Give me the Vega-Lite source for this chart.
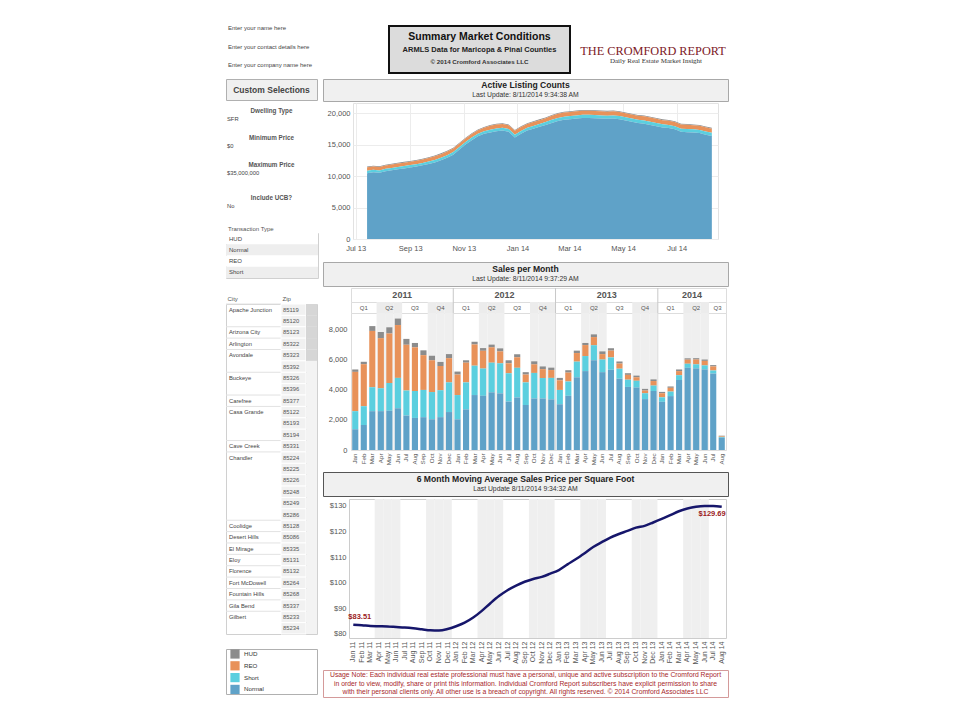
{
"$schema": "https://vega.github.io/schema/vega-lite/v6.json",
"padding": {"left": 225, "top": 25, "right": 0, "bottom": 0},
"background": "white",
"config": {
  "font": "Liberation Sans",
  "view": {"stroke": null, "fill": "transparent"},
  "axis": {"labelFont": "Liberation Sans", "labelColor": "#555555", "labelFontSize": 7.5, "ticks": false, "domain": false},
  "text": {"font": "Liberation Sans"},
  "title": {"font": "Liberation Sans"}
},
"datasets": {
  "types": [{"type": "Normal", "ord": 1}, {"type": "Short", "ord": 2}, {"type": "REO", "ord": 3}, {"type": "HUD", "ord": 4}],
  "months": [
    {"m": "2011-01", "q": "Q1", "Normal": 1380, "Short": 1200, "REO": 2610, "HUD": 160, "psf": 83.51},
    {"m": "2011-02", "q": "Q1", "Normal": 1660, "Short": 1250, "REO": 2790, "HUD": 160, "psf": 83.3},
    {"m": "2011-03", "q": "Q1", "Normal": 2580, "Short": 1590, "REO": 3740, "HUD": 320, "psf": 83.0},
    {"m": "2011-04", "q": "Q2", "Normal": 2580, "Short": 1520, "REO": 3330, "HUD": 410, "psf": 82.9},
    {"m": "2011-05", "q": "Q2", "Normal": 2610, "Short": 1840, "REO": 3290, "HUD": 410, "psf": 82.8},
    {"m": "2011-06", "q": "Q2", "Normal": 2770, "Short": 2020, "REO": 3510, "HUD": 430, "psf": 82.6},
    {"m": "2011-07", "q": "Q3", "Normal": 2290, "Short": 1660, "REO": 3040, "HUD": 390, "psf": 82.4},
    {"m": "2011-08", "q": "Q3", "Normal": 2130, "Short": 1790, "REO": 2900, "HUD": 290, "psf": 82.1},
    {"m": "2011-09", "q": "Q3", "Normal": 2180, "Short": 1810, "REO": 2310, "HUD": 320, "psf": 81.7},
    {"m": "2011-10", "q": "Q4", "Normal": 2040, "Short": 1810, "REO": 2110, "HUD": 300, "psf": 81.3},
    {"m": "2011-11", "q": "Q4", "Normal": 2180, "Short": 1790, "REO": 1610, "HUD": 270, "psf": 81.2},
    {"m": "2011-12", "q": "Q4", "Normal": 2520, "Short": 1970, "REO": 1610, "HUD": 270, "psf": 81.8},
    {"m": "2012-01", "q": "Q1", "Normal": 2040, "Short": 1610, "REO": 1360, "HUD": 200, "psf": 82.9},
    {"m": "2012-02", "q": "Q1", "Normal": 2700, "Short": 1790, "REO": 1310, "HUD": 160, "psf": 84.3},
    {"m": "2012-03", "q": "Q1", "Normal": 3650, "Short": 1950, "REO": 1410, "HUD": 180, "psf": 86.3},
    {"m": "2012-04", "q": "Q2", "Normal": 3600, "Short": 1810, "REO": 1180, "HUD": 180, "psf": 88.9},
    {"m": "2012-05", "q": "Q2", "Normal": 3830, "Short": 1970, "REO": 1020, "HUD": 180, "psf": 91.9},
    {"m": "2012-06", "q": "Q2", "Normal": 3760, "Short": 2000, "REO": 790, "HUD": 200, "psf": 94.7},
    {"m": "2012-07", "q": "Q3", "Normal": 3220, "Short": 1880, "REO": 660, "HUD": 200, "psf": 97.0},
    {"m": "2012-08", "q": "Q3", "Normal": 3490, "Short": 1970, "REO": 700, "HUD": 200, "psf": 98.8},
    {"m": "2012-09", "q": "Q3", "Normal": 2990, "Short": 1500, "REO": 520, "HUD": 160, "psf": 100.3},
    {"m": "2012-10", "q": "Q4", "Normal": 3420, "Short": 1700, "REO": 570, "HUD": 200, "psf": 101.4},
    {"m": "2012-11", "q": "Q4", "Normal": 3420, "Short": 1360, "REO": 590, "HUD": 180, "psf": 102.2},
    {"m": "2012-12", "q": "Q4", "Normal": 3360, "Short": 1430, "REO": 520, "HUD": 160, "psf": 103.5},
    {"m": "2013-01", "q": "Q1", "Normal": 3040, "Short": 950, "REO": 640, "HUD": 160, "psf": 104.9},
    {"m": "2013-02", "q": "Q1", "Normal": 3600, "Short": 950, "REO": 590, "HUD": 160, "psf": 107.1},
    {"m": "2013-03", "q": "Q1", "Normal": 4830, "Short": 1040, "REO": 570, "HUD": 160, "psf": 109.2},
    {"m": "2013-04", "q": "Q2", "Normal": 5240, "Short": 1000, "REO": 730, "HUD": 140, "psf": 111.5},
    {"m": "2013-05", "q": "Q2", "Normal": 5960, "Short": 1000, "REO": 540, "HUD": 180, "psf": 113.9},
    {"m": "2013-06", "q": "Q2", "Normal": 5170, "Short": 840, "REO": 360, "HUD": 180, "psf": 115.8},
    {"m": "2013-07", "q": "Q3", "Normal": 5330, "Short": 820, "REO": 450, "HUD": 160, "psf": 117.6},
    {"m": "2013-08", "q": "Q3", "Normal": 4740, "Short": 660, "REO": 340, "HUD": 140, "psf": 119.0},
    {"m": "2013-09", "q": "Q3", "Normal": 4190, "Short": 480, "REO": 320, "HUD": 110, "psf": 120.2},
    {"m": "2013-10", "q": "Q4", "Normal": 4150, "Short": 450, "REO": 230, "HUD": 110, "psf": 121.5},
    {"m": "2013-11", "q": "Q4", "Normal": 3380, "Short": 390, "REO": 180, "HUD": 110, "psf": 122.2},
    {"m": "2013-12", "q": "Q4", "Normal": 3920, "Short": 360, "REO": 300, "HUD": 110, "psf": 123.5},
    {"m": "2014-01", "q": "Q1", "Normal": 3200, "Short": 300, "REO": 270, "HUD": 90, "psf": 124.9},
    {"m": "2014-02", "q": "Q1", "Normal": 3580, "Short": 300, "REO": 250, "HUD": 90, "psf": 126.4},
    {"m": "2014-03", "q": "Q1", "Normal": 4650, "Short": 320, "REO": 270, "HUD": 110, "psf": 127.9},
    {"m": "2014-04", "q": "Q2", "Normal": 5460, "Short": 270, "REO": 270, "HUD": 90, "psf": 129.0},
    {"m": "2014-05", "q": "Q2", "Normal": 5420, "Short": 270, "REO": 320, "HUD": 90, "psf": 129.7},
    {"m": "2014-06", "q": "Q2", "Normal": 5350, "Short": 270, "REO": 300, "HUD": 90, "psf": 130.0},
    {"m": "2014-07", "q": "Q3", "Normal": 5080, "Short": 200, "REO": 270, "HUD": 90, "psf": 130.0},
    {"m": "2014-08", "q": "Q3", "Normal": 820, "Short": 50, "REO": 50, "HUD": 30, "psf": 129.69}
  ],
  "listings": [
    {"d": "2013-07-14", "Normal": 10460, "Short": 380, "REO": 540, "HUD": 120},
    {"d": "2013-07-21", "Normal": 10610, "Short": 380, "REO": 540, "HUD": 120},
    {"d": "2013-07-28", "Normal": 10510, "Short": 380, "REO": 540, "HUD": 120},
    {"d": "2013-08-04", "Normal": 10760, "Short": 380, "REO": 540, "HUD": 120},
    {"d": "2013-08-11", "Normal": 10910, "Short": 380, "REO": 540, "HUD": 120},
    {"d": "2013-08-18", "Normal": 11060, "Short": 380, "REO": 540, "HUD": 120},
    {"d": "2013-08-25", "Normal": 11210, "Short": 380, "REO": 540, "HUD": 120},
    {"d": "2013-09-01", "Normal": 11360, "Short": 380, "REO": 540, "HUD": 120},
    {"d": "2013-09-08", "Normal": 11510, "Short": 380, "REO": 540, "HUD": 120},
    {"d": "2013-09-15", "Normal": 11710, "Short": 380, "REO": 540, "HUD": 120},
    {"d": "2013-09-22", "Normal": 11900, "Short": 410, "REO": 570, "HUD": 120},
    {"d": "2013-09-29", "Normal": 12150, "Short": 410, "REO": 570, "HUD": 120},
    {"d": "2013-10-06", "Normal": 12500, "Short": 410, "REO": 570, "HUD": 120},
    {"d": "2013-10-13", "Normal": 12900, "Short": 410, "REO": 570, "HUD": 120},
    {"d": "2013-10-20", "Normal": 13400, "Short": 410, "REO": 570, "HUD": 120},
    {"d": "2013-10-27", "Normal": 14200, "Short": 410, "REO": 570, "HUD": 120},
    {"d": "2013-11-03", "Normal": 15000, "Short": 410, "REO": 570, "HUD": 120},
    {"d": "2013-11-10", "Normal": 15700, "Short": 410, "REO": 570, "HUD": 120},
    {"d": "2013-11-17", "Normal": 16300, "Short": 410, "REO": 570, "HUD": 120},
    {"d": "2013-11-24", "Normal": 16700, "Short": 410, "REO": 570, "HUD": 120},
    {"d": "2013-12-01", "Normal": 16915, "Short": 450, "REO": 615, "HUD": 120},
    {"d": "2013-12-08", "Normal": 17115, "Short": 450, "REO": 615, "HUD": 120},
    {"d": "2013-12-15", "Normal": 17215, "Short": 450, "REO": 615, "HUD": 120},
    {"d": "2013-12-22", "Normal": 17015, "Short": 450, "REO": 615, "HUD": 120},
    {"d": "2013-12-29", "Normal": 16115, "Short": 450, "REO": 615, "HUD": 120},
    {"d": "2014-01-05", "Normal": 16715, "Short": 450, "REO": 615, "HUD": 120},
    {"d": "2014-01-12", "Normal": 17215, "Short": 450, "REO": 615, "HUD": 120},
    {"d": "2014-01-19", "Normal": 17515, "Short": 450, "REO": 615, "HUD": 120},
    {"d": "2014-01-26", "Normal": 17815, "Short": 450, "REO": 615, "HUD": 120},
    {"d": "2014-02-02", "Normal": 18115, "Short": 450, "REO": 615, "HUD": 120},
    {"d": "2014-02-09", "Normal": 18435, "Short": 490, "REO": 655, "HUD": 120},
    {"d": "2014-02-16", "Normal": 18735, "Short": 490, "REO": 655, "HUD": 120},
    {"d": "2014-02-23", "Normal": 18935, "Short": 490, "REO": 655, "HUD": 120},
    {"d": "2014-03-02", "Normal": 19035, "Short": 490, "REO": 655, "HUD": 120},
    {"d": "2014-03-09", "Normal": 19135, "Short": 490, "REO": 655, "HUD": 120},
    {"d": "2014-03-16", "Normal": 19235, "Short": 490, "REO": 655, "HUD": 120},
    {"d": "2014-03-23", "Normal": 19235, "Short": 490, "REO": 655, "HUD": 120},
    {"d": "2014-03-30", "Normal": 19185, "Short": 490, "REO": 655, "HUD": 120},
    {"d": "2014-04-06", "Normal": 19135, "Short": 490, "REO": 655, "HUD": 120},
    {"d": "2014-04-13", "Normal": 19085, "Short": 490, "REO": 655, "HUD": 120},
    {"d": "2014-04-20", "Normal": 19135, "Short": 490, "REO": 655, "HUD": 120},
    {"d": "2014-04-27", "Normal": 19035, "Short": 490, "REO": 655, "HUD": 120},
    {"d": "2014-05-04", "Normal": 18835, "Short": 490, "REO": 655, "HUD": 120},
    {"d": "2014-05-11", "Normal": 18635, "Short": 490, "REO": 655, "HUD": 120},
    {"d": "2014-05-18", "Normal": 18435, "Short": 490, "REO": 655, "HUD": 120},
    {"d": "2014-05-25", "Normal": 18320, "Short": 500, "REO": 660, "HUD": 120},
    {"d": "2014-06-01", "Normal": 18120, "Short": 500, "REO": 660, "HUD": 120},
    {"d": "2014-06-08", "Normal": 17920, "Short": 500, "REO": 660, "HUD": 120},
    {"d": "2014-06-15", "Normal": 17720, "Short": 500, "REO": 660, "HUD": 120},
    {"d": "2014-06-22", "Normal": 17620, "Short": 500, "REO": 660, "HUD": 120},
    {"d": "2014-06-29", "Normal": 17420, "Short": 500, "REO": 660, "HUD": 120},
    {"d": "2014-07-06", "Normal": 17020, "Short": 500, "REO": 660, "HUD": 120},
    {"d": "2014-07-13", "Normal": 16970, "Short": 500, "REO": 660, "HUD": 120},
    {"d": "2014-07-20", "Normal": 16920, "Short": 500, "REO": 660, "HUD": 120},
    {"d": "2014-07-27", "Normal": 16820, "Short": 500, "REO": 660, "HUD": 120},
    {"d": "2014-08-03", "Normal": 16570, "Short": 500, "REO": 660, "HUD": 120},
    {"d": "2014-08-10", "Normal": 16370, "Short": 500, "REO": 660, "HUD": 120}
  ],
  "zips": [
    {"city": "Apache Junction", "zip": "85119"}, {"city": "", "zip": "85120"}, {"city": "Arizona City", "zip": "85123"},
    {"city": "Arlington", "zip": "85322"}, {"city": "Avondale", "zip": "85323"}, {"city": "", "zip": "85392"},
    {"city": "Buckeye", "zip": "85326"}, {"city": "", "zip": "85396"}, {"city": "Carefree", "zip": "85377"},
    {"city": "Casa Grande", "zip": "85122"}, {"city": "", "zip": "85193"}, {"city": "", "zip": "85194"},
    {"city": "Cave Creek", "zip": "85331"}, {"city": "Chandler", "zip": "85224"}, {"city": "", "zip": "85225"},
    {"city": "", "zip": "85226"}, {"city": "", "zip": "85248"}, {"city": "", "zip": "85249"},
    {"city": "", "zip": "85286"}, {"city": "Coolidge", "zip": "85128"}, {"city": "Desert Hills", "zip": "85086"},
    {"city": "El Mirage", "zip": "85335"}, {"city": "Eloy", "zip": "85131"}, {"city": "Florence", "zip": "85132"},
    {"city": "Fort McDowell", "zip": "85264"}, {"city": "Fountain Hills", "zip": "85268"}, {"city": "Gila Bend", "zip": "85337"},
    {"city": "Gilbert", "zip": "85233"}, {"city": "", "zip": "85234"}
  ],
  "ybound": [{"m": "2012-01"}, {"m": "2013-01"}, {"m": "2014-01"}],
  "yrs": [{"m": "2011-07", "t": "2011"}, {"m": "2012-07", "t": "2012"}, {"m": "2013-07", "t": "2013"}, {"m": "2014-05", "t": "2014"}],
  "qlab": [
    {"m": "2011-02", "t": "Q1"}, {"m": "2011-05", "t": "Q2"}, {"m": "2011-08", "t": "Q3"}, {"m": "2011-11", "t": "Q4"},
    {"m": "2012-02", "t": "Q1"}, {"m": "2012-05", "t": "Q2"}, {"m": "2012-08", "t": "Q3"}, {"m": "2012-11", "t": "Q4"},
    {"m": "2013-02", "t": "Q1"}, {"m": "2013-05", "t": "Q2"}, {"m": "2013-08", "t": "Q3"}, {"m": "2013-11", "t": "Q4"},
    {"m": "2014-02", "t": "Q1"}, {"m": "2014-05", "t": "Q2"}
  ],
  "qlab2": [{"m": "2014-08", "t": "Q3"}]
},
"spacing": 4,
"vconcat": [
  {
    "spacing": 7,
    "hconcat": [
      {
        "width": 92, "height": 41,
        "data": {"values": [{"t": "Enter your name here"}, {"t": "Enter your contact details here"}, {"t": "Enter your company name here"}]},
        "mark": {"type": "text", "align": "left", "fontSize": 6, "color": "#444444", "dx": 2},
        "encoding": {
          "y": {"field": "t", "type": "nominal", "sort": null, "axis": null, "scale": {"type": "point", "padding": 0.11}},
          "x": {"datum": "c", "type": "nominal", "axis": null, "scale": {"type": "band", "paddingInner": 0, "paddingOuter": 0}, "bandPosition": 0},
          "text": {"field": "t"}
        }
      },
      {"width": 56, "height": 1, "data": {"values": []}, "mark": "rect"},
      {
        "width": 181, "height": 47,
        "view": {"fill": "#dcdcdc", "stroke": "#111111", "strokeWidth": 2},
        "data": {"values": [
          {"line": "1", "t": "Summary Market Conditions"},
          {"line": "2", "t": "ARMLS Data for Maricopa & Pinal Counties"},
          {"line": "3", "t": "© 2014 Cromford Associates LLC"}
        ]},
        "encoding": {
          "y": {"field": "line", "type": "ordinal", "axis": null, "scale": {"type": "point", "padding": 0.85}},
          "text": {"field": "t"}
        },
        "layer": [
          {"transform": [{"filter": "datum.line == '1'"}], "mark": {"type": "text", "fontSize": 10.5, "fontWeight": "bold", "color": "#111111"}},
          {"transform": [{"filter": "datum.line == '2'"}], "mark": {"type": "text", "fontSize": 7.5, "fontWeight": "bold", "color": "#222222"}},
          {"transform": [{"filter": "datum.line == '3'"}], "mark": {"type": "text", "fontSize": 6.2, "fontWeight": "bold", "color": "#333333"}}
        ]
      },
      {
        "width": 150, "height": 47,
        "data": {"values": [{"line": "1", "t": "THE CROMFORD REPORT"}, {"line": "2", "t": "Daily Real Estate Market Insight"}]},
        "encoding": {"text": {"field": "t"}},
        "layer": [
          {"transform": [{"filter": "datum.line == '1'"}], "mark": {"type": "text", "font": "Liberation Serif", "fontSize": 12.3, "color": "#7d2027", "dy": 1}},
          {"transform": [{"filter": "datum.line == '2'"}], "mark": {"type": "text", "font": "Liberation Serif", "fontSize": 7, "color": "#333333", "dy": 11, "dx": 3}}
        ]
      }
    ]
  },
  {
    "spacing": 3,
    "hconcat": [
      {
        "spacing": 0,
        "vconcat": [
          {
            "width": 91, "height": 21,
            "view": {"fill": "#f0f0f0", "stroke": "#b0b0b0"},
            "data": {"values": [{"t": "Custom Selections"}]},
            "mark": {"type": "text", "fontSize": 8.5, "fontWeight": "bold", "color": "#444444"},
            "encoding": {"text": {"field": "t"}}
          },
          {
            "width": 91, "height": 81,
            "data": {"values": [
              {"label": "Dwelling Type", "value": "SFR"},
              {"label": "Minimum Price", "value": "$0"},
              {"label": "Maximum Price", "value": "$35,000,000"}
            ]},
            "encoding": {"y": {"field": "label", "type": "nominal", "sort": null, "axis": null, "scale": {"type": "band", "paddingInner": 0, "paddingOuter": 0}}},
            "layer": [
              {"mark": {"type": "text", "fontSize": 6.3, "fontWeight": "bold", "color": "#555555", "dy": -4}, "encoding": {"text": {"field": "label"}}},
              {"mark": {"type": "text", "fontSize": 5.8, "color": "#444444", "align": "left", "dy": 4, "dx": 1},
               "encoding": {"text": {"field": "value"}, "x": {"datum": "c", "type": "nominal", "axis": null, "scale": {"type": "band", "paddingInner": 0, "paddingOuter": 0}, "bandPosition": 0}}}
            ]
          },
          {
            "width": 91, "height": 43,
            "data": {"values": [{"label": "Include UCB?", "value": "No"}]},
            "encoding": {"y": {"field": "label", "type": "nominal", "sort": null, "axis": null, "scale": {"type": "band", "paddingInner": 0, "paddingOuter": 0}}},
            "layer": [
              {"mark": {"type": "text", "fontSize": 6.3, "fontWeight": "bold", "color": "#555555", "dy": -6}, "encoding": {"text": {"field": "label"}}},
              {"mark": {"type": "text", "fontSize": 5.8, "color": "#444444", "align": "left", "dy": 2, "dx": 1},
               "encoding": {"text": {"field": "value"}, "x": {"datum": "c", "type": "nominal", "axis": null, "scale": {"type": "band", "paddingInner": 0, "paddingOuter": 0}, "bandPosition": 0}}}
            ]
          },
          {
            "width": 92, "height": 45,
            "title": {"text": "Transaction Type", "anchor": "start", "fontSize": 6, "fontWeight": "normal", "color": "#555555", "offset": 1, "dx": 2},
            "view": {"fill": "white", "stroke": "#d0d0d0"},
            "data": {"values": [{"v": "HUD"}, {"v": "Normal"}, {"v": "REO"}, {"v": "Short"}]},
            "encoding": {"y": {"field": "v", "type": "nominal", "sort": null, "axis": null, "scale": {"type": "band", "paddingInner": 0, "paddingOuter": 0}}},
            "layer": [
              {"mark": {"type": "rect"}, "encoding": {"color": {"condition": {"test": "datum.v == 'Normal' || datum.v == 'Short'", "value": "#eeeeee"}, "value": "#ffffff"}}},
              {"mark": {"type": "text", "fontSize": 6, "color": "#444444", "align": "left", "dx": 3},
               "encoding": {"text": {"field": "v"}, "x": {"datum": "c", "type": "nominal", "axis": null, "scale": {"type": "band", "paddingInner": 0, "paddingOuter": 0}, "bandPosition": 0}}}
            ]
          },
          {"width": 1, "height": 16, "data": {"values": []}, "mark": "rect"},
          {
            "bounds": "flush",
            "spacing": 0,
            "hconcat": [
              {
                "width": 55, "height": 330,
                "title": {"text": "City", "anchor": "start", "fontSize": 6, "fontWeight": "normal", "color": "#555555", "offset": 2, "dx": 2},
                "view": {"fill": "white", "stroke": "#d0d0d0"},
                "data": {"name": "zips"},
                "encoding": {"y": {"field": "zip", "type": "nominal", "sort": null, "axis": null, "scale": {"type": "band", "paddingInner": 0, "paddingOuter": 0}}},
                "layer": [
                  {"mark": {"type": "text", "fontSize": 5.8, "color": "#444444", "align": "left", "dx": 3},
                   "encoding": {"text": {"field": "city"}, "x": {"datum": "c", "type": "nominal", "axis": null, "scale": {"type": "band", "paddingInner": 0, "paddingOuter": 0}, "bandPosition": 0}}},
                  {"mark": {"type": "rule", "strokeWidth": 1},
                   "encoding": {"y": {"field": "zip", "type": "nominal", "sort": null, "axis": null, "bandPosition": 0, "scale": {"type": "band", "paddingInner": 0, "paddingOuter": 0}},
                                "color": {"condition": {"test": "datum.city != ''", "value": "#e2e2e2"}, "value": "transparent"}}}
                ]
              },
              {
                "width": 25, "height": 330,
                "title": {"text": "Zip", "anchor": "start", "fontSize": 6, "fontWeight": "normal", "color": "#555555", "offset": 2, "dx": 2},
                "view": {"fill": "white", "stroke": "#d0d0d0"},
                "data": {"name": "zips"},
                "encoding": {"y": {"field": "zip", "type": "nominal", "sort": null, "axis": null, "scale": {"type": "band", "paddingInner": 0, "paddingOuter": 0}}},
                "layer": [
                  {"mark": {"type": "rect", "color": "#f1f1f1", "stroke": "#ffffff", "strokeWidth": 1}},
                  {"mark": {"type": "text", "fontSize": 5.8, "color": "#555555", "align": "left", "dx": 2},
                   "encoding": {"text": {"field": "zip"}, "x": {"datum": "c", "type": "nominal", "axis": null, "scale": {"type": "band", "paddingInner": 0, "paddingOuter": 0}, "bandPosition": 0}}}
                ]
              },
              {
                "width": 11, "height": 330,
                "view": {"fill": "#f3f3f3", "stroke": "#d0d0d0"},
                "data": {"name": "zips"},
                "mark": {"type": "rect"},
                "encoding": {
                  "y": {"field": "zip", "type": "nominal", "sort": null, "axis": null, "scale": {"type": "band", "paddingInner": 0, "paddingOuter": 0}},
                  "color": {"condition": {"test": "indexof(['85119','85120','85123','85322','85323'], datum.zip) >= 0", "value": "#d6d6d6"}, "value": "#f3f3f3"}
                }
              }
            ]
          },
          {"width": 1, "height": 13, "data": {"values": []}, "mark": "rect"},
          {"width": 91, "height": 45, "view": {"fill": "white", "stroke": "#b0b0b0"}, "data": {"values": []}, "mark": "rect"}
        ]
      },
      {
        "spacing": 4,
        "vconcat": [
          {
            "spacing": 5,
            "vconcat": [
              {
                "spacing": 9,
                "vconcat": [
                  {
                    "spacing": 0,
                    "vconcat": [
                      {
                        "width": 405, "height": 22,
                        "view": {"fill": "#f0f0f0", "stroke": "#a8a8a8"},
                        "data": {"values": [{"line": "1", "t": "Active Listing Counts"}, {"line": "2", "t": "Last Update: 8/11/2014 9:34:38 AM"}]},
                        "encoding": {"y": {"field": "line", "type": "ordinal", "axis": null, "scale": {"type": "point", "padding": 0.6}}, "text": {"field": "t"}},
                        "layer": [
                          {"transform": [{"filter": "datum.line == '1'"}], "mark": {"type": "text", "fontSize": 8.6, "fontWeight": "bold", "color": "#222222"}},
                          {"transform": [{"filter": "datum.line == '2'"}], "mark": {"type": "text", "fontSize": 6.8, "color": "#333333"}}
                        ]
                      },
                      {
                        "spacing": 2,
                        "hconcat": [
                          {"width": 1, "height": 1, "data": {"values": []}, "mark": "rect"},
                          {
                            "width": 365, "height": 136,
                            "view": {"stroke": "#e2e2e2", "fill": "white"},
                            "data": {"name": "listings"},
                            "transform": [
                              {"fold": ["HUD", "REO", "Short", "Normal"], "as": ["type", "count"]},
                              {"lookup": "type", "from": {"data": {"name": "types"}, "key": "type", "fields": ["ord"]}}
                            ],
                            "mark": {"type": "area", "interpolate": "linear"},
                            "encoding": {
                              "x": {"field": "d", "type": "temporal", "title": null,
                                    "scale": {"type": "utc", "domain": ["2013-06-28", "2014-08-17"]},
                                    "axis": {"format": "%b %y", "tickCount": {"interval": "month", "step": 2}, "grid": true, "gridColor": "#ececec", "labelPadding": 5}},
                              "y": {"field": "count", "type": "quantitative", "stack": "zero", "title": null,
                                    "scale": {"domain": [0, 21600], "nice": false},
                                    "axis": {"values": [0, 5000, 10000, 15000, 20000], "format": ",d", "grid": true, "gridColor": "#ececec", "labelPadding": 3}},
                              "color": {"field": "type", "type": "nominal",
                                        "scale": {"domain": ["HUD", "REO", "Short", "Normal"], "range": ["#8c8c8c", "#e8925a", "#5bcfdf", "#5fa2c8"]},
                                        "legend": {"orient": "none", "legendX": 4, "legendY": 623, "title": null, "symbolType": "square", "symbolSize": 85, "symbolStrokeWidth": 0, "labelFontSize": 6.2, "labelColor": "#333333", "rowPadding": 1.8, "labelOffset": 4, "padding": 0}},
                              "order": {"field": "ord", "type": "quantitative", "sort": "ascending"}
                            }
                          }
                        ]
                      }
                    ]
                  },
                  {
                    "spacing": 0,
                    "vconcat": [
                      {
                        "width": 405, "height": 24,
                        "view": {"fill": "#f0f0f0", "stroke": "#a8a8a8"},
                        "data": {"values": [{"line": "1", "t": "Sales per Month"}, {"line": "2", "t": "Last Update: 8/11/2014 9:37:29 AM"}]},
                        "encoding": {"y": {"field": "line", "type": "ordinal", "axis": null, "scale": {"type": "point", "padding": 0.6}}, "text": {"field": "t"}},
                        "layer": [
                          {"transform": [{"filter": "datum.line == '1'"}], "mark": {"type": "text", "fontSize": 8.6, "fontWeight": "bold", "color": "#222222"}},
                          {"transform": [{"filter": "datum.line == '2'"}], "mark": {"type": "text", "fontSize": 6.8, "color": "#333333"}}
                        ]
                      },
                      {
                        "spacing": 3,
                        "hconcat": [
                          {"width": 1, "height": 1, "data": {"values": []}, "mark": "rect"},
                          {
                            "bounds": "flush",
                            "spacing": 0,
                            "resolve": {"scale": {"x": "shared"}, "axis": {"x": "independent"}},
                            "vconcat": [
                              {
                                "width": 375, "height": 14,
                                "view": {"fill": "white", "stroke": "#dddddd"},
                                "layer": [
                                  {"data": {"name": "ybound"}, "mark": {"type": "rule", "color": "#c8c8c8"},
                                   "encoding": {"x": {"field": "m", "type": "ordinal", "timeUnit": "utcyearmonth", "bandPosition": 0, "axis": null, "scale": {"type": "band", "paddingInner": 0, "paddingOuter": 0}}}},
                                  {"data": {"name": "yrs"}, "mark": {"type": "text", "fontSize": 9, "fontWeight": "bold", "color": "#555555"},
                                   "encoding": {"x": {"field": "m", "type": "ordinal", "timeUnit": "utcyearmonth", "bandPosition": 0, "axis": null, "scale": {"type": "band", "paddingInner": 0, "paddingOuter": 0}}, "text": {"field": "t"}}}
                                ]
                              },
                              {
                                "width": 375, "height": 11,
                                "view": {"fill": "white", "stroke": "#dddddd"},
                                "layer": [
                                  {"data": {"name": "months"}, "transform": [{"filter": "datum.q == 'Q2' || datum.q == 'Q4'"}], "mark": {"type": "rect", "color": "#ececec"},
                                   "encoding": {"x": {"field": "m", "type": "ordinal", "timeUnit": "utcyearmonth", "axis": null, "scale": {"type": "band", "paddingInner": 0, "paddingOuter": 0}}}},
                                  {"data": {"name": "ybound"}, "mark": {"type": "rule", "color": "#c8c8c8"},
                                   "encoding": {"x": {"field": "m", "type": "ordinal", "timeUnit": "utcyearmonth", "bandPosition": 0, "axis": null, "scale": {"type": "band", "paddingInner": 0, "paddingOuter": 0}}}},
                                  {"data": {"name": "qlab"}, "mark": {"type": "text", "fontSize": 6, "color": "#555555"},
                                   "encoding": {"x": {"field": "m", "type": "ordinal", "timeUnit": "utcyearmonth", "axis": null, "scale": {"type": "band", "paddingInner": 0, "paddingOuter": 0}}, "text": {"field": "t"}}},
                                  {"data": {"name": "qlab2"}, "mark": {"type": "text", "fontSize": 6, "color": "#555555"},
                                   "encoding": {"x": {"field": "m", "type": "ordinal", "timeUnit": "utcyearmonth", "bandPosition": 0, "axis": null, "scale": {"type": "band", "paddingInner": 0, "paddingOuter": 0}}, "text": {"field": "t"}}}
                                ]
                              },
                              {
                                "width": 375, "height": 137,
                                "view": {"fill": "white", "stroke": "#dddddd"},
                                "layer": [
                                  {"data": {"name": "months"}, "transform": [{"filter": "datum.q == 'Q2' || datum.q == 'Q4'"}], "mark": {"type": "rect", "color": "#efefef"},
                                   "encoding": {"x": {"field": "m", "type": "ordinal", "timeUnit": "utcyearmonth", "title": null, "scale": {"type": "band", "paddingInner": 0, "paddingOuter": 0}, "axis": {"format": "%b", "labelAngle": 270, "labelFontSize": 6.2, "labelPadding": 3}}}},
                                  {"data": {"name": "ybound"}, "mark": {"type": "rule", "color": "#dddddd"},
                                   "encoding": {"x": {"field": "m", "type": "ordinal", "timeUnit": "utcyearmonth", "bandPosition": 0, "title": null, "scale": {"type": "band", "paddingInner": 0, "paddingOuter": 0}, "axis": {"format": "%b", "labelAngle": 270, "labelFontSize": 6.2, "labelPadding": 3}}}},
                                  {"data": {"name": "months"},
                                   "transform": [
                                     {"fold": ["HUD", "REO", "Short", "Normal"], "as": ["type", "count"]},
                                     {"lookup": "type", "from": {"data": {"name": "types"}, "key": "type", "fields": ["ord"]}}
                                   ],
                                   "mark": {"type": "bar", "width": {"band": 0.72}},
                                   "encoding": {
                                     "x": {"field": "m", "type": "ordinal", "timeUnit": "utcyearmonth", "title": null, "scale": {"type": "band", "paddingInner": 0, "paddingOuter": 0}, "axis": {"format": "%b", "labelAngle": 270, "labelFontSize": 6.2, "labelPadding": 3}},
                                     "y": {"field": "count", "type": "quantitative", "stack": "zero", "title": null, "scale": {"domain": [0, 9100], "nice": false},
                                           "axis": {"values": [0, 2000, 4000, 6000, 8000], "format": ",d", "grid": false, "labelPadding": 4}},
                                     "color": {"field": "type", "type": "nominal",
                                               "scale": {"domain": ["HUD", "REO", "Short", "Normal"], "range": ["#8c8c8c", "#e8925a", "#5bcfdf", "#5fa2c8"]},
                                               "legend": {"orient": "none", "legendX": 4, "legendY": 623, "title": null, "symbolType": "square", "symbolSize": 85, "symbolStrokeWidth": 0, "labelFontSize": 6.2, "labelColor": "#333333", "rowPadding": 1.8, "labelOffset": 4, "padding": 0}},
                                     "order": {"field": "ord", "type": "quantitative", "sort": "ascending"}
                                   }}
                                ]
                              }
                            ]
                          }
                        ]
                      }
                    ]
                  }
                ]
              },
              {
                "spacing": 1,
                "vconcat": [
                  {
                    "width": 405, "height": 24,
                    "view": {"fill": "#f0f0f0", "stroke": "#555555"},
                    "data": {"values": [{"line": "1", "t": "6 Month Moving Average Sales Price per Square Foot"}, {"line": "2", "t": "Last Update 8/11/2014 9:34:32 AM"}]},
                    "encoding": {"y": {"field": "line", "type": "ordinal", "axis": null, "scale": {"type": "point", "padding": 0.6}}, "text": {"field": "t"}},
                    "layer": [
                      {"transform": [{"filter": "datum.line == '1'"}], "mark": {"type": "text", "fontSize": 8.6, "fontWeight": "bold", "color": "#222222"}},
                      {"transform": [{"filter": "datum.line == '2'"}], "mark": {"type": "text", "fontSize": 6.8, "color": "#333333"}}
                    ]
                  },
                  {
                    "spacing": 4,
                    "hconcat": [
                      {"width": 1, "height": 1, "data": {"values": []}, "mark": "rect"},
                      {
                        "width": 377, "height": 139,
                        "view": {"fill": "white", "stroke": "#cccccc"},
                        "data": {"name": "months"},
                        "layer": [
                          {"transform": [{"filter": "datum.q == 'Q2' || datum.q == 'Q4'"}], "mark": {"type": "rect", "color": "#efefef"},
                           "encoding": {"x": {"field": "m", "type": "ordinal", "timeUnit": "utcyearmonth", "title": null, "scale": {"type": "band", "paddingInner": 0, "paddingOuter": 0}, "axis": {"format": "%b %y", "labelAngle": 270, "labelFontSize": 7, "labelPadding": 3}}}},
                          {"mark": {"type": "line", "color": "#16166b", "strokeWidth": 2.5, "interpolate": "monotone"},
                           "encoding": {
                             "x": {"field": "m", "type": "ordinal", "timeUnit": "utcyearmonth", "title": null, "scale": {"type": "band", "paddingInner": 0, "paddingOuter": 0}, "axis": {"format": "%b %y", "labelAngle": 270, "labelFontSize": 7, "labelPadding": 3}},
                             "y": {"field": "psf", "type": "quantitative", "title": null, "scale": {"domain": [78.3, 132.7], "nice": false, "zero": false},
                                   "axis": {"values": [80, 90, 100, 110, 120, 130], "format": "$d", "grid": false, "labelPadding": 3}}
                           }},
                          {"transform": [{"filter": "datum.psf == 83.51"}],
                           "mark": {"type": "text", "align": "left", "baseline": "bottom", "dx": -5, "dy": -4, "fontSize": 7.5, "fontWeight": "bold", "color": "#9b1c1c"},
                           "encoding": {
                             "x": {"field": "m", "type": "ordinal", "timeUnit": "utcyearmonth", "title": null, "scale": {"type": "band", "paddingInner": 0, "paddingOuter": 0}, "axis": {"format": "%b %y", "labelAngle": 270, "labelFontSize": 7, "labelPadding": 3}},
                             "y": {"field": "psf", "type": "quantitative", "title": null, "scale": {"domain": [78.3, 132.7], "nice": false, "zero": false},
                                   "axis": {"values": [80, 90, 100, 110, 120, 130], "format": "$d", "grid": false, "labelPadding": 3}},
                             "text": {"field": "psf", "type": "quantitative", "format": "$.2f"}
                           }},
                          {"transform": [{"filter": "datum.psf == 129.69"}],
                           "mark": {"type": "text", "align": "right", "baseline": "top", "dx": 4, "dy": 3, "fontSize": 7.5, "fontWeight": "bold", "color": "#9b1c1c"},
                           "encoding": {
                             "x": {"field": "m", "type": "ordinal", "timeUnit": "utcyearmonth", "title": null, "scale": {"type": "band", "paddingInner": 0, "paddingOuter": 0}, "axis": {"format": "%b %y", "labelAngle": 270, "labelFontSize": 7, "labelPadding": 3}},
                             "y": {"field": "psf", "type": "quantitative", "title": null, "scale": {"domain": [78.3, 132.7], "nice": false, "zero": false},
                                   "axis": {"values": [80, 90, 100, 110, 120, 130], "format": "$d", "grid": false, "labelPadding": 3}},
                             "text": {"field": "psf", "type": "quantitative", "format": "$.2f"}
                           }}
                        ]
                      }
                    ]
                  }
                ]
              }
            ]
          },
          {
            "width": 405, "height": 27,
            "view": {"fill": "white", "stroke": "#d49a9a"},
            "data": {"values": [
              {"line": "1", "t": "Usage Note: Each individual real estate professional must have a personal, unique and active subscription to the Cromford Report"},
              {"line": "2", "t": "in order to view, modify, share or print this information. Individual Cromford Report subscribers have explicit permission to share"},
              {"line": "3", "t": "with their personal clients only. All other use is a breach of copyright. All rights reserved. © 2014 Cromford Associates LLC"}
            ]},
            "mark": {"type": "text", "fontSize": 6.8, "color": "#a8282b"},
            "encoding": {
              "y": {"field": "line", "type": "ordinal", "axis": null, "scale": {"type": "point", "padding": 0.6}},
              "text": {"field": "t"}
            }
          }
        ]
      }
    ]
  }
]
}
